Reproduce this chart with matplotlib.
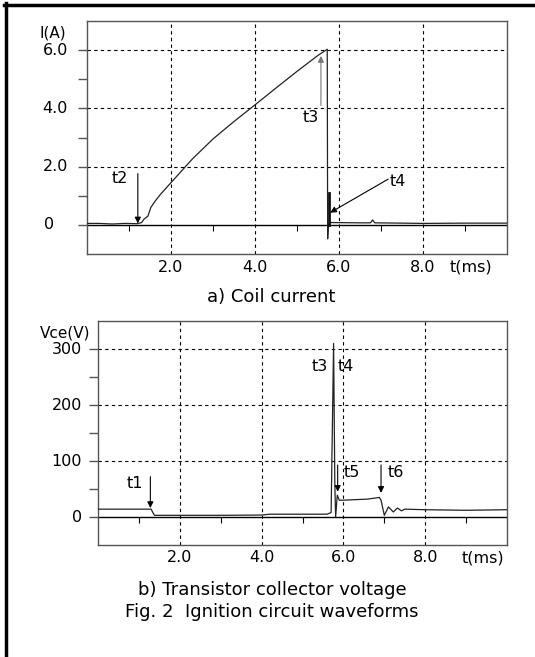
import matplotlib
matplotlib.use("Agg")
import matplotlib.pyplot as plt
from matplotlib.lines import Line2D
from matplotlib import transforms

plt.rcParams['font.family'] = ['DejaVu Sans']

# ---------------- data ----------------
# a) coil current (A) vs time (ms)
t_i = [0.0, 0.3, 0.6, 0.9, 1.2, 1.3, 1.36, 1.45, 1.52, 1.63, 1.75, 2.0, 2.25, 2.5, 2.75, 3.0,
       3.5, 4.0, 4.5, 5.0, 5.5, 5.72, 5.73, 5.745, 5.755, 5.8, 6.5, 6.75, 6.8, 6.85, 7.5, 8.0, 9.0, 10.0]
i_a = [0.05, 0.05, 0.03, 0.05, 0.04, 0.08, 0.2, 0.3, 0.6, 0.83, 1.05, 1.45, 1.85, 2.25, 2.6, 2.95,
       3.55, 4.12, 4.7, 5.27, 5.82, 6.03, -0.48, 0.0, 0.0, 0.08, 0.07, 0.07, 0.17, 0.07, 0.06, 0.05, 0.06, 0.06]
# t4 ringing burst (vertical bar right after turn-off)
t_burst = [5.75, 5.75]
i_burst = [0.0, 1.1]

# b) transistor collector voltage (V) vs time (ms)
t_v = [0.0, 0.5, 1.0, 1.3, 1.34, 1.38, 2.0, 3.0, 4.0, 4.2, 5.0, 5.6, 5.7, 5.76, 5.79, 5.81, 5.85,
       5.9, 6.0, 6.3, 6.6, 6.88, 6.92, 7.0, 7.1, 7.22, 7.32, 7.42, 7.5, 8.0, 9.0, 10.0]
v_ce = [14, 14, 14, 14, 8, 3, 3, 3, 3.5, 5, 5, 5, 8, 310, 60, 0, 39,
        30, 30, 31, 32, 35, 30, 3, 18, 9, 16, 11, 14, 13, 12, 13]

i_major = [0, 2, 4, 6]
i_major_lbl = ["0", "2.0", "4.0", "6.0"]
i_minor = [1, 3, 5]
v_major = [0, 100, 200, 300]
v_major_lbl = ["0", "100", "200", "300"]
v_minor = [50, 150, 250]
x_major = [2, 4, 6, 8]
x_major_lbl = ["2.0", "4.0", "6.0", "8.0"]
x_minor = [1, 3, 5, 7, 9]

W, H = 535, 657
fig = plt.figure(figsize=(W / 100, H / 100), dpi=100)

def px_axes(l, t, r, b):
    return fig.add_axes([l / W, 1 - b / H, (r - l) / W, (b - t) / H])

ax1 = px_axes(87, 21, 507, 254)
ax2 = px_axes(98, 321, 507, 545)

spine_col = '#555555'
fs_tick = 11.5
fs_cap = 13

def style(ax, ylim, ymaj, ymaj_lbl, ymin, ylabel, ylabel_xy, ylbl_x, zero_x, zero_ha,
          tms_x, lbl_y):
    ax.set_xlim(0, 10)
    ax.set_ylim(*ylim)
    for s in ax.spines.values():
        s.set_color(spine_col)
        s.set_linewidth(1.0)
    ax.set_yticks(ymaj)
    ax.set_yticks(ymin, minor=True)
    ax.set_yticklabels([])
    ax.tick_params(axis='y', which='both', direction='out', length=6.5, width=1,
                   color=spine_col, left=True)
    ax.set_xticks(x_major)
    ax.set_xticklabels([])
    ax.tick_params(axis='x', which='both', length=0)
    for xv, lb in zip(x_major, x_major_lbl):
        ax.text(xv, lbl_y, lb, transform=transforms.blended_transform_factory(
            ax.transData, ax.transAxes), ha='center', va='center', fontsize=fs_tick)
    for yv in ymaj[1:]:
        ax.axhline(yv, color='black', lw=0.8, ls=(0, (3, 3)), zorder=1)
    for xv in x_major:
        ax.axvline(xv, color='black', lw=0.8, ls=(0, (3, 3)), zorder=1)
    ax.axhline(0, color='black', lw=1.0, zorder=2)
    ax.plot(x_minor, [0] * len(x_minor), ls='none', marker=3, markersize=4,
            color='black', markeredgewidth=0.8, zorder=2)
    tr = transforms.blended_transform_factory(ax.transAxes, ax.transData)
    for yv, lb in zip(ymaj, ymaj_lbl):
        if lb == '0':
            ax.text(zero_x, yv, lb, transform=tr, ha=zero_ha, va='center', fontsize=fs_tick)
        else:
            ax.text(ylbl_x, yv, lb, transform=tr, ha='right', va='center', fontsize=fs_tick)
    ax.text(ylabel_xy[0], ylabel_xy[1], ylabel, transform=fig.transFigure,
            ha='center', va='center', fontsize=fs_tick - 0.5)
    ax.text(tms_x, lbl_y, 't(ms)', transform=ax.transAxes, ha='center', va='center',
            fontsize=fs_tick)

# top panel
style(ax1, (-1, 7), i_major, i_major_lbl, i_minor, 'I(A)', (53 / W, 1 - 33 / H),
      -0.045, -0.09, 'center', 0.915, -0.056)
ax1.plot(t_i, i_a, color='#222222', lw=0.9, zorder=3)
ax1.plot(t_burst, i_burst, color='#111111', lw=2.0, zorder=3)

arw = dict(arrowstyle='-|>', lw=0.8, color='black', mutation_scale=9, shrinkA=0, shrinkB=0)
ax1.annotate('', xy=(1.21, 0.05), xytext=(1.21, 1.76), arrowprops=arw)
ax1.text(0.77, 1.6, 't2', ha='center', va='center', fontsize=fs_tick)
arw_g = dict(arw, color='#777777')
ax1.annotate('', xy=(5.57, 5.8), xytext=(5.57, 4.1), arrowprops=arw_g)
ax1.text(5.33, 3.7, 't3', ha='center', va='center', fontsize=fs_tick)
ax1.annotate('', xy=(5.79, 0.42), xytext=(7.17, 1.57), arrowprops=arw)
ax1.text(7.4, 1.5, 't4', ha='center', va='center', fontsize=fs_tick)

# bottom panel
style(ax2, (-50, 350), v_major, v_major_lbl, v_minor, 'Vce(V)', (65 / W, 1 - 333 / H),
      -0.039, -0.039, 'right', 0.94, -0.058)
ax2.plot(t_v, v_ce, color='#222222', lw=0.9, zorder=3)
ax2.annotate('', xy=(1.28, 16), xytext=(1.28, 72), arrowprops=arw)
ax2.text(0.9, 60, 't1', ha='center', va='center', fontsize=fs_tick)
ax2.text(5.42, 268, 't3', ha='center', va='center', fontsize=fs_tick)
ax2.text(6.07, 268, 't4', ha='center', va='center', fontsize=fs_tick)
ax2.annotate('', xy=(5.86, 45), xytext=(5.86, 93), arrowprops=arw)
ax2.text(6.21, 80, 't5', ha='center', va='center', fontsize=fs_tick)
ax2.annotate('', xy=(6.92, 43), xytext=(6.92, 93), arrowprops=arw)
ax2.text(7.28, 80, 't6', ha='center', va='center', fontsize=fs_tick)

# captions
fig.text(271 / W, 1 - 297 / H, 'a) Coil current', ha='center', va='center', fontsize=fs_cap)
fig.text(272 / W, 1 - 590 / H, 'b) Transistor collector voltage', ha='center', va='center',
         fontsize=fs_cap)
fig.text(272 / W, 1 - 612 / H, 'Fig. 2  Ignition circuit waveforms', ha='center',
         va='center', fontsize=fs_cap)

# frame (left and top)
fig.add_artist(Line2D([5.5 / W, 5.5 / W], [0, 1 - 3 / H], transform=fig.transFigure,
                      color='black', lw=2.5))
fig.add_artist(Line2D([4 / W, 1], [1 - 4.5 / H, 1 - 4.5 / H], transform=fig.transFigure,
                      color='black', lw=2.5))

fig.savefig('out.png', dpi=100)
